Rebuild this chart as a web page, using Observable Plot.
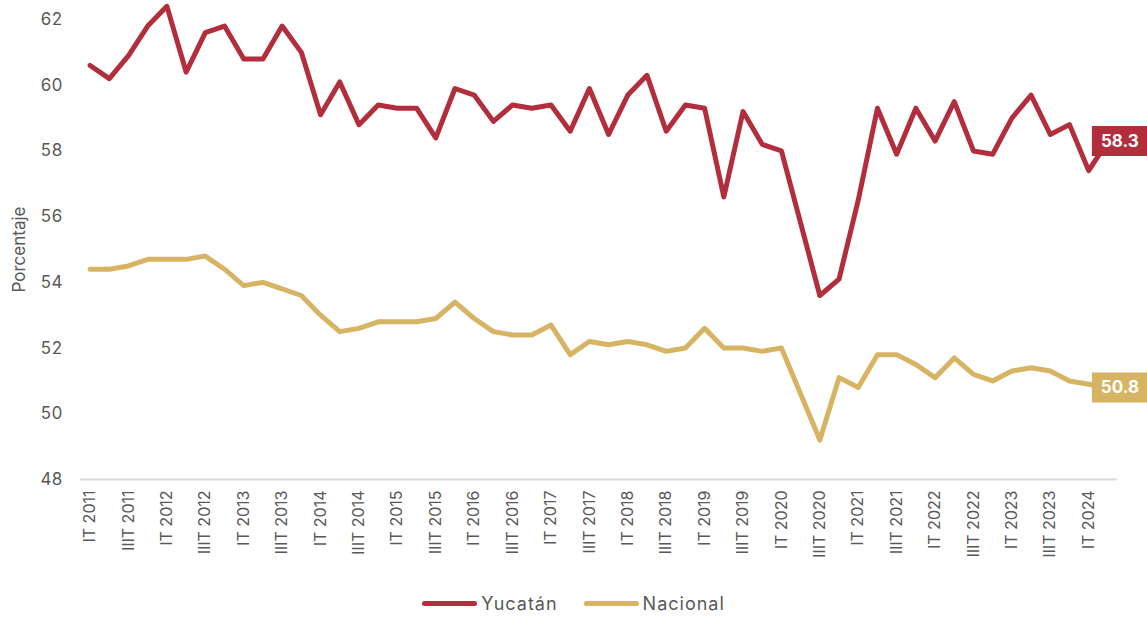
<!DOCTYPE html>
<html>
<head>
<meta charset="utf-8">
<script src="https://cdn.jsdelivr.net/npm/d3@7"></script>
<script src="https://cdn.jsdelivr.net/npm/@observablehq/plot@0.6"></script>
<style>
  body { margin: 0; background: #fff; font-family: Inter, "Open Sans", sans-serif; }
  #legend { display: flex; justify-content: center; align-items: center; height: 27px; gap: 26px; font-size: 18px; letter-spacing: 1px; color: #595959; padding-left: 0px; }
  .item { display: flex; align-items: center; gap: 4px; }
  .sw { width: 55px; height: 5px; border-radius: 3px; }
</style>
</head>
<body>
<div id="chart"></div>
<div id="legend"></div>
<script>
const years = [2011,2012,2013,2014,2015,2016,2017,2018,2019,2020,2021,2022,2023,2024];
const quarterNames = ["IT","IIT","IIIT","IVT"];
const categories = [];
for (const y of years) for (const q of quarterNames) {
  if (y === 2024 && (q === "IIIT" || q === "IVT")) continue;
  categories.push(q + " " + y);
}
const yucatan = [60.6,60.2,60.9,61.8,62.4,60.4,61.6,61.8,60.8,60.8,61.8,61.0,
  59.1,60.1,58.8,59.4,59.3,59.3,58.4,59.9,59.7,58.9,59.4,59.3,59.4,58.6,59.9,58.5,
  59.7,60.3,58.6,59.4,59.3,56.6,59.2,58.2,58.0,55.8,53.6,54.1,56.5,59.3,57.9,59.3,
  58.3,59.5,58.0,57.9,59.0,59.7,58.5,58.8,57.4,58.3];
const nacional = [54.4,54.4,54.5,54.7,54.7,54.7,54.8,54.4,53.9,54.0,53.8,53.6,
  53.0,52.5,52.6,52.8,52.8,52.8,52.9,53.4,52.9,52.5,52.4,52.4,52.7,51.8,52.2,52.1,
  52.2,52.1,51.9,52.0,52.6,52.0,52.0,51.9,52.0,50.6,49.2,51.1,50.8,51.8,51.8,51.5,
  51.1,51.7,51.2,51.0,51.3,51.4,51.3,51.0,50.9,50.8];
const seriesNames = ["Yucatán","Nacional"];
const colors = ["#b22e3d","#d6b464"];
const yTicks = [48,50,52,54,56,58,60,62];

const rows = [];
seriesNames.forEach((s, si) => {
  const vals = si === 0 ? yucatan : nacional;
  vals.forEach((v, i) => rows.push({serie: s, q: categories[i], v}));
});
const last = seriesNames.map((s, si) => {
  const vals = si === 0 ? yucatan : nacional;
  return {serie: s, q: categories[categories.length-1], v: vals[vals.length-1]};
});

const boxSymbol = {
  draw(ctx, size) {
    ctx.moveTo(-28, -15); ctx.lineTo(28, -15); ctx.lineTo(28, 15); ctx.lineTo(-28, 15); ctx.closePath();
  }
};

const chart = Plot.plot({
  width: 1147,
  height: 590,
  marginLeft: 80,
  marginRight: 30,
  marginTop: 19,
  marginBottom: 111,
  style: {fontFamily: "Inter, 'Open Sans', sans-serif", color: "#595959", background: "#fff"},
  x: {type: "point", domain: categories, padding: 0.5, round: false, label: null},
  y: {domain: [48, 62], label: null},
  color: {domain: seriesNames, range: colors},
  marks: [
    Plot.ruleY([48], {stroke: "#d9d9d9", strokeWidth: 2}),
    Plot.axisY({ticks: yTicks, tickSize: 0, tickPadding: 18, fontSize: 17, label: "Porcentaje", labelAnchor: "center", labelArrow: "none", labelOffset: 68}),
    Plot.axisX({ticks: categories.filter((d, i) => i % 2 === 0), tickSize: 0, tickPadding: 11, tickRotate: -90, fontSize: 16, label: null}),
    Plot.line(rows, {x: "q", y: "v", z: "serie", stroke: "serie", strokeWidth: 5, strokeLinejoin: "round", strokeLinecap: "round"}),
    Plot.dot(last, {x: "q", y: "v", symbol: boxSymbol, r: 1, fill: "serie", stroke: null, dx: 12}),
    Plot.text(last, {x: "q", y: "v", text: d => d.v.toFixed(1), dx: 12, fill: "white", fontWeight: "bold", fontSize: 17})
  ]
});
document.getElementById("chart").appendChild(chart);

const legend = document.getElementById("legend");
seriesNames.forEach((s, i) => {
  const it = document.createElement("div");
  it.className = "item";
  it.innerHTML = `<span class="sw" style="background:${colors[i]}"></span><span>${s}</span>`;
  legend.appendChild(it);
});
</script>
</body>
</html>
